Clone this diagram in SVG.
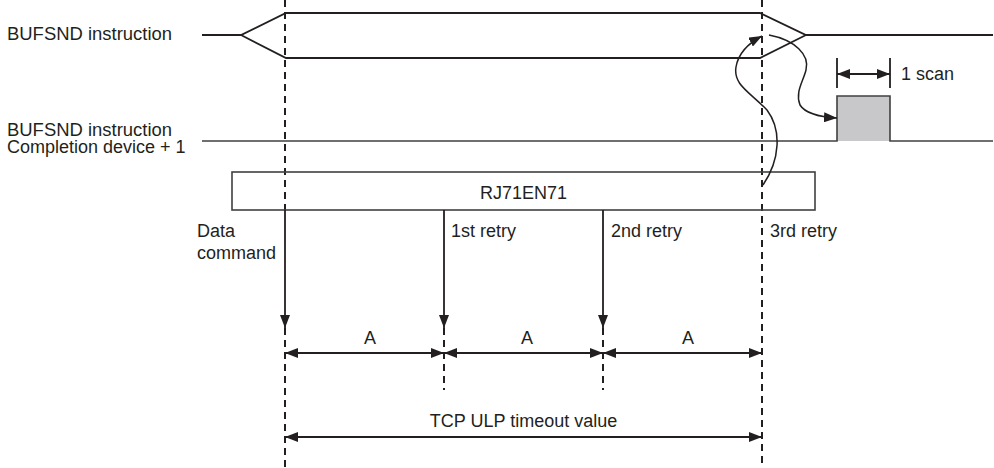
<svg xmlns="http://www.w3.org/2000/svg" width="994" height="468" viewBox="0 0 994 468">
<style>
text{font-family:"Liberation Sans",Arial,sans-serif;font-size:18px;fill:#231f20}
.w{fill:none;stroke:#231f20;stroke-width:1.8}
.g{fill:none;stroke:#404040;stroke-width:1.6}
.d{fill:none;stroke:#231f20;stroke-width:2;stroke-dasharray:7,5}
.a{fill:none;stroke:#231f20;stroke-width:1.8}
.c{fill:none;stroke:#231f20;stroke-width:1.5}
</style>
<defs>
<marker id="ah" markerUnits="userSpaceOnUse" viewBox="0 0 13 10" markerWidth="13" markerHeight="10" refX="13" refY="5" orient="auto-start-reverse">
<path d="M0,0 L13,5 L0,10 z" fill="#231f20"/>
</marker>
</defs>
<rect width="994" height="468" fill="#fff"/>

<g id="guides">
<path class="d" d="M285,0 V210"/>
<path class="d" d="M285,328 V468"/>
<path class="d" d="M762,0 V468"/>
<path class="d" d="M444,328 V390"/>
<path class="d" d="M603,328 V390"/>
</g>

<g id="bufsnd">
<text x="7" y="40" textLength="165" lengthAdjust="spacingAndGlyphs">BUFSND instruction</text>
<path class="w" d="M202,35 H241 L286,13 H760 L806,35 H993"/>
<path class="w" d="M241,35 L286,58 H760 L806,35"/>
</g>

<g id="completion">
<text x="7" y="136" textLength="165" lengthAdjust="spacingAndGlyphs">BUFSND instruction</text>
<text x="7" y="153">Completion device + 1</text>
<path fill="#c8c8ca" stroke="none" d="M837,96 H890 V141 H837 z"/>
<path class="g" d="M202,141 H837 V96 H890 V141 H993"/>
</g>

<g id="scan">
<path class="w" d="M837,58 V88 M890,58 V88"/>
<text x="901" y="80">1 scan</text>
</g>

<g id="rj71en71">
<rect x="232" y="172" width="583" height="38" fill="none" stroke="#404040" stroke-width="1.6"/>
<text x="523.5" y="199" text-anchor="middle">RJ71EN71</text>
</g>

<g id="labels">
<text x="197" y="237">Data</text>
<text x="197" y="259">command</text>
<text x="451" y="237">1st retry</text>
<text x="611" y="237">2nd retry</text>
<text x="770" y="237">3rd retry</text>
<text x="370" y="344" text-anchor="middle">A</text>
<text x="527" y="344" text-anchor="middle">A</text>
<text x="688" y="344" text-anchor="middle">A</text>
<text x="523.5" y="427" text-anchor="middle">TCP ULP timeout value</text>
</g>

<g id="connectors">
<path class="a" d="M837,74 H890" marker-start="url(#ah)" marker-end="url(#ah)"/>
<path class="a" d="M285,210 V328" marker-end="url(#ah)"/>
<path class="a" d="M444,210 V328" marker-end="url(#ah)"/>
<path class="a" d="M603,210 V328" marker-end="url(#ah)"/>
<path class="a" d="M285,353 H444" marker-start="url(#ah)" marker-end="url(#ah)"/>
<path class="a" d="M444,353 H603" marker-start="url(#ah)" marker-end="url(#ah)"/>
<path class="a" d="M603,353 H762" marker-start="url(#ah)" marker-end="url(#ah)"/>
<path class="a" d="M285,437 H762" marker-start="url(#ah)" marker-end="url(#ah)"/>
<path class="c" d="M763,185 C780,160 782,130 767,110 C750,92 733,85 736,67 C738,55 747,44 762,36" marker-end="url(#ah)"/>
<path class="c" d="M769,35 C795,40 810,55 806,70 C803,82 795,92 800,105 C805,113 820,117 837,118" marker-end="url(#ah)"/>
</g>
</svg>
